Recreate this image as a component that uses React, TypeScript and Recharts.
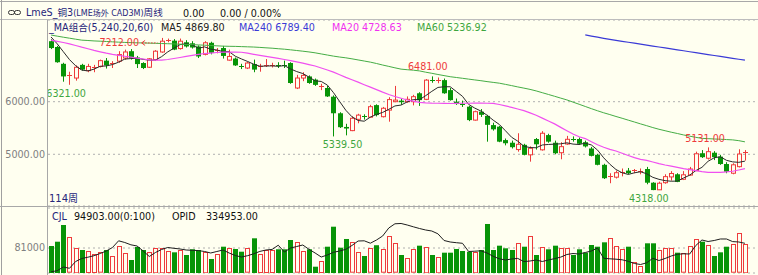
import React from "react";
import { ComposedChart, Bar, Line, XAxis, YAxis, CartesianGrid, ReferenceDot } from "recharts";

const FONT = '"DejaVu Sans", "Noto Sans CJK SC", sans-serif';
const BG = "#fffff0";
const RED = "#ee3b3b";
const GREEN = "#079407";
const NAVY = "#25257a";

// weekly OHLC (114 weeks)
const opens = [
  7150, 7040, 6720, 6500, 6450, 6700, 6590, 6630, 6670, 6780,
  6720, 6770, 6830, 6960, 6840, 6735, 6655, 6800, 6945, 7160,
  7160, 7010, 7130, 7110, 7050, 6900, 7120, 6960, 7020, 6790,
  6820, 6680, 6640, 6715, 6660, 6680, 6680, 6700, 6700, 6735,
  6260, 6450, 6480, 6420, 6290, 6260, 6095, 5780, 5520, 5450,
  5665, 5725, 5705, 5935, 5715, 5840, 6000, 6020, 6000, 6000,
  6160, 6045, 6420, 6410, 6410, 6220, 6000, 5960, 5905, 5650,
  5810, 5730, 5555, 5525, 5270, 5220, 5090, 5180, 4990, 5290,
  5085, 5365, 5220, 5030, 5195, 5300, 5290, 5230, 5110, 4990,
  4800, 4580, 4565, 4650, 4690, 4685, 4670, 4720, 4460, 4325,
  4460, 4570, 4620, 4525, 4605, 4690, 5020, 4925, 5030, 4955,
  4815, 4640, 4765, 5040,
];
const highs = [
  7190, 7060, 6740, 6570, 6690, 6720, 6720, 6700, 6800, 6830,
  6770, 6960, 6990, 7000, 6870, 6750, 6830, 6980, 7212, 7200,
  7190, 7200, 7170, 7150, 7070, 7150, 7140, 7020, 7060, 6990,
  6840, 6720, 6760, 6800, 6720, 6810, 6740, 6750, 6780, 6750,
  6510, 6560, 6500, 6440, 6340, 6300, 6120, 5800, 5580, 5720,
  5770, 5760, 5940, 5950, 5900, 6085, 6300, 6060, 6100, 6130,
  6180, 6430, 6481, 6460, 6440, 6260, 6060, 6020, 5920, 5830,
  5860, 5750, 5600, 5540, 5300, 5260, 5400, 5200, 5150, 5310,
  5440, 5390, 5260, 5230, 5350, 5340, 5320, 5260, 5140, 5010,
  4820, 4640, 4690, 4730, 4740, 4720, 4730, 4760, 4470, 4480,
  4620, 4680, 4640, 4680, 4760, 5050, 5080, 5131, 5060, 4990,
  4850, 4830, 5095, 5080,
];
const lows = [
  7000, 6740, 6380, 6321, 6400, 6590, 6560, 6560, 6650, 6630,
  6640, 6740, 6800, 6800, 6640, 6620, 6640, 6780, 6930, 7130,
  6980, 6990, 7030, 7010, 6830, 6880, 6900, 6920, 6820, 6780,
  6680, 6620, 6620, 6560, 6570, 6660, 6650, 6640, 6640, 6340,
  6240, 6390, 6340, 6300, 6220, 6090, 5339.5, 5500, 5360, 5440,
  5590, 5660, 5700, 5720, 5700, 5620, 5990, 5940, 5980, 5930,
  5920, 6030, 6360, 6350, 6150, 6020, 5940, 5900, 5630, 5640,
  5710, 5240, 5450, 5230, 5170, 5110, 5050, 4980, 4860, 5090,
  5070, 5220, 5000, 4905, 5180, 5240, 5180, 5130, 4960, 4790,
  4530, 4450, 4540, 4580, 4620, 4640, 4620, 4430, 4318, 4320,
  4440, 4500, 4470, 4510, 4590, 4680, 4930, 4900, 4890, 4800,
  4640, 4620, 4750, 4880,
];
const closes = [
  7020, 6750, 6480, 6510, 6654, 6610, 6670, 6650, 6780, 6690,
  6740, 6895, 6945, 6830, 6715, 6640, 6815, 6960, 7150, 7170,
  6990, 7150, 7050, 7030, 6860, 7120, 6930, 6975, 6870, 6860,
  6690, 6670, 6735, 6610, 6670, 6700, 6690, 6690, 6680, 6355,
  6450, 6500, 6355, 6320, 6300, 6100, 5780, 5515, 5490, 5685,
  5745, 5710, 5905, 5745, 5875, 6040, 6030, 5990, 6045, 6095,
  6030, 6410, 6400, 6420, 6160, 6030, 5955, 5945, 5650, 5810,
  5750, 5560, 5475, 5240, 5210, 5135, 5190, 4990, 5115, 5190,
  5400, 5240, 5020, 5145, 5285, 5280, 5200, 5150, 4970, 4800,
  4545, 4590, 4650, 4660, 4640, 4700, 4690, 4460, 4320, 4450,
  4575, 4635, 4475, 4610, 4720, 5010, 4945, 5050, 4945, 4815,
  4670, 4800, 5005, 5050,
];

// moving averages as drawn
const ma5 = [
  7230, 7100, 6950, 6800, 6683, 6601, 6585, 6619, 6673, 6680,
  6706, 6751, 6810, 6820, 6825, 6805, 6789, 6792, 6856, 6947,
  7017, 7084, 7102, 7078, 7016, 7042, 6998, 6983, 6951, 6951,
  6865, 6813, 6765, 6713, 6675, 6677, 6681, 6672, 6686, 6623,
  6573, 6535, 6468, 6396, 6385, 6315, 6171, 6003, 5837, 5714,
  5643, 5629, 5707, 5758, 5796, 5855, 5919, 5936, 5996, 6040,
  6038, 6114, 6196, 6271, 6284, 6284, 6193, 6102, 5948, 5878,
  5822, 5743, 5649, 5567, 5447, 5324, 5250, 5153, 5128, 5124,
  5177, 5187, 5193, 5199, 5218, 5194, 5186, 5212, 5177, 5080,
  4933, 4811, 4711, 4649, 4617, 4648, 4668, 4630, 4562, 4524,
  4499, 4488, 4491, 4549, 4603, 4690, 4752, 4867, 4934, 4953,
  4885, 4856, 4847, 4869.8,
];
const ma20 = [
  7172, 7148, 7125, 7098, 7068, 7036, 7007, 6975, 6948, 6922,
  6899, 6882, 6864, 6847, 6828, 6811, 6794, 6792, 6792, 6802,
  6821, 6840, 6861, 6880, 6899, 6916, 6925, 6935, 6942, 6944,
  6944, 6940, 6922, 6901, 6882, 6863, 6842, 6823, 6802, 6781,
  6758, 6732, 6705, 6678, 6640, 6602, 6561, 6513, 6462, 6416,
  6371, 6323, 6276, 6230, 6182, 6137, 6099, 6065, 6032, 6010,
  5987, 5977, 5972, 5970, 5968, 5966, 5968, 5970, 5970, 5972,
  5972, 5970, 5968, 5947, 5920, 5892, 5861, 5829, 5787, 5742,
  5688, 5633, 5578, 5512, 5449, 5386, 5333, 5299, 5238, 5181,
  5134, 5094, 5063, 5020, 4978, 4936, 4904, 4885, 4854, 4822,
  4797, 4775, 4750, 4727, 4708, 4689, 4670, 4655, 4655, 4655,
  4664, 4678, 4702, 4728.63,
];
const ma60 = [
  7267, 7246, 7226, 7207, 7188, 7170, 7163, 7155, 7150, 7144,
  7138, 7132, 7127, 7123, 7119, 7117, 7113, 7110, 7106, 7102,
  7098, 7093, 7089, 7085, 7079, 7074, 7068, 7062, 7056, 7053,
  7051, 7047, 7043, 7039, 7032, 7024, 7017, 7007, 6998, 6986,
  6973, 6960, 6946, 6929, 6908, 6887, 6866, 6849, 6834, 6815,
  6794, 6773, 6752, 6726, 6697, 6671, 6644, 6619, 6608, 6599,
  6585, 6561, 6540, 6517, 6496, 6475, 6460, 6445, 6429, 6414,
  6399, 6382, 6367, 6352, 6329, 6306, 6281, 6258, 6234, 6205,
  6171, 6137, 6103, 6068, 6034, 5992, 5951, 5909, 5867, 5827,
  5789, 5755, 5719, 5685, 5649, 5614, 5578, 5544, 5508, 5476,
  5448, 5420, 5395, 5368, 5345, 5322, 5303, 5297, 5291, 5286,
  5280, 5274, 5259, 5236.92,
];
const ma240 = [
  ...Array(87).fill(null),
  7270, 7248, 7226, 7205, 7185, 7166, 7148, 7130, 7112, 7094,
  7076, 7058, 7040, 7022, 7004, 6986, 6968, 6950, 6932, 6914,
  6896, 6878, 6860, 6842, 6825, 6807, 6789.4,
];

// lower panel: volume (CJL) and open interest (OPID)
const volumes = [
  87480, 101400, 155500, 115600, 82000, 74500, 71300, 61600, 67000, 74500,
  55100, 88500, 65800, 42100, 84200, 74500, 69000, 82000, 82000, 71300,
  67000, 74500, 58300, 76800, 74500, 69000, 45400, 61600, 85200, 80000,
  77800, 69000, 80000, 112400, 61600, 74500, 74500, 76800, 76800, 106900,
  99400, 71300, 76800, 20400, 38900, 85200, 150000, 82000, 110200, 99400,
  69000, 55100, 80000, 90000, 76800, 119900, 96200, 58300, 47600, 76800,
  88500, 85200, 58300, 52800, 65800, 65800, 77800, 71300, 69000, 69000,
  74500, 158800, 74500, 88500, 80000, 74500, 98200, 85200, 119900, 58300,
  85200, 76800, 88500, 82000, 82000, 58300, 76800, 65800, 90700, 85200,
  99400, 112400, 88500, 76800, 85200, 36600, 22700, 96200, 96200, 74500,
  80000, 80000, 65800, 63800, 88500, 109200, 101400, 90700, 55100, 67000,
  85200, 93000, 128600, 94903,
];
const opid = [
  205500, 210500, 227300, 221400, 252300, 265900, 271800, 278600, 288600, 300000,
  315900, 346300, 338600, 328100, 322700, 300000, 275000, 293200, 306800, 315900,
  312300, 309100, 304500, 303200, 301800, 297700, 290900, 297700, 304500, 290900,
  279500, 272700, 278600, 287200, 298100, 304500, 307200, 326300, 295400, 313600,
  320400, 327200, 307700, 290900, 272700, 281800, 294100, 300000, 307700, 325000,
  345400, 346300, 335400, 350000, 368100, 404500, 423600, 425000, 418100, 409900,
  402200, 395400, 390800, 378100, 347700, 340900, 337700, 335000, 297700, 299100,
  300900, 290900, 275900, 264500, 259100, 263600, 266300, 251800, 254500, 259100,
  252300, 259100, 265400, 272200, 284100, 288600, 286300, 293200, 300000, 313600,
  266800, 264500, 262700, 260000, 253200, 243200, 238600, 246300, 266800, 256800,
  265900, 277200, 285000, 287200, 286300, 325000, 350000, 343100, 347700, 354500,
  354500, 342700, 340900, 334953,
];

const priceTicks = [5000, 6000];
const volTicks = [81000];

const rows = closes.map((c, i) => ({
  w: i,
  o: opens[i],
  h: highs[i],
  l: lows[i],
  c,
  ma5: ma5[i],
  ma20: ma20[i],
  ma60: ma60[i],
  ma240: ma240[i],
  vol: volumes[i],
  op: opid[i],
}));

function Candle(props: any) {
  const { x, y, width, height, payload } = props;
  if (!payload) return null;
  const { o, h, l, c } = payload;
  const top = Math.min(y, y + height);
  const span = Math.abs(height);
  const k = span / (h - l);
  const cx = Math.round(x + width / 2) + 0.5;
  const yo = top + (h - o) * k;
  const yc = top + (h - c) * k;
  const up = c >= o;
  const col = up ? RED : GREEN;
  const bt = Math.min(yo, yc);
  const bh = Math.abs(yo - yc);
  return (
    <g>
      <line x1={cx} x2={cx} y1={top} y2={top + span} stroke={col} />
      {bh < 1.2 ? (
        <line x1={cx - 2.5} x2={cx + 2.5} y1={Math.round(bt) + 0.5} y2={Math.round(bt) + 0.5} stroke={col} />
      ) : up ? (
        <rect x={cx - 2} y={bt} width={4} height={bh} fill={BG} stroke={col} />
      ) : (
        <rect x={cx - 2.5} y={bt} width={5} height={bh} fill={col} />
      )}
    </g>
  );
}

function VolBar(props: any) {
  const { x, y, width, height, payload } = props;
  if (!payload) return null;
  const cx = Math.round(x + width / 2) + 0.5;
  const top = Math.min(y, y + height);
  const hh = Math.abs(height);
  if (payload.c >= payload.o) {
    return <rect x={cx - 2} y={Math.round(top) + 0.5} width={4} height={Math.max(hh - 1, 0)} fill={BG} stroke={RED} />;
  }
  return <rect x={cx - 2.5} y={top} width={5} height={hh} fill={GREEN} />;
}

const mark =
  (text: string, color: string, dx: number, dy: number, anchor: string = "middle", kind?: "arrow" | "clip") =>
  (p: any) => {
    const vb = p.viewBox || { x: 0, y: 0, width: 0, height: 0 };
    const px = vb.x + (vb.width || 0) / 2;
    const py = vb.y + (vb.height || 0) / 2;
    const tx = px + dx;
    const ty = py + dy;
    return (
      <g>
        {kind === "clip" && (
          <defs>
            <clipPath id="plotClip">
              <rect x={48} y={20} width={710} height={186} />
            </clipPath>
          </defs>
        )}
        <text
          x={tx}
          y={ty + 3.5}
          textAnchor={anchor as any}
          fill={color}
          fontSize={9.6}
          fontFamily={FONT}
          clipPath={kind === "clip" ? "url(#plotClip)" : undefined}
        >
          {text}
        </text>
        {kind === "arrow" && (
          <g stroke={color} fill="none">
            <path d={`M${tx + 6},${ty - 2.5} L${tx + 2.5},${ty} L${tx + 6},${ty + 2.5}`} />
            <line x1={tx + 3} x2={px - 4} y1={ty} y2={ty} strokeDasharray="1.5 1.5" />
          </g>
        )}
      </g>
    );
  };

const lbl = { fontSize: 9.6, fontFamily: FONT };

export default function App() {
  return (
    <div style={{ position: "fixed", left: 0, top: 0, width: 758, height: 275, background: BG, overflow: "hidden" }}>
      <div style={{ position: "absolute", left: 0, top: 0 }}>
        <ComposedChart width={758} height={207} data={rows} margin={{ top: 20, right: 0, bottom: 1, left: 0 }}>
          <CartesianGrid vertical={false} stroke="#b0b0b0" strokeDasharray="2 3" />
          <XAxis dataKey="w" hide height={0} padding={{ left: 0, right: 10 }} />
          <YAxis
            domain={[4017, 7553]}
            allowDataOverflow
            ticks={priceTicks}
            width={48}
            axisLine={false}
            tickLine={false}
            tickSize={0}
            tickMargin={3}
            tick={{ fill: "#808080", ...lbl }}
            tickFormatter={(v: number) => v.toFixed(2)}
          />
          <Bar dataKey={(d: any) => [d.l, d.h]} barSize={4} shape={Candle} isAnimationActive={false} />
          <Line dataKey="ma5" stroke="#2a2a2a" strokeWidth={1} dot={false} isAnimationActive={false} />
          <Line dataKey="ma240" stroke="#3a3ad6" strokeWidth={1.2} dot={false} isAnimationActive={false} />
          <Line dataKey="ma20" stroke="#f050f0" strokeWidth={1.2} dot={false} isAnimationActive={false} />
          <Line dataKey="ma60" stroke="#45ad45" strokeWidth={1} dot={false} isAnimationActive={false} />
          <ReferenceDot x={18} y={7212} r={0} label={mark("7212.00", RED, -22.5, 5, "end", "arrow")} />
          <ReferenceDot x={62} y={6481} r={0} label={mark("6481.00", RED, -4, -9.7)} />
          <ReferenceDot x={46} y={5339.5} r={0} label={mark("5339.50", "#3ea63e", 9, 8.3)} />
          <ReferenceDot x={98} y={4318} r={0} label={mark("4318.00", "#3ea63e", -4, 8.3)} />
          <ReferenceDot x={107} y={5131} r={0} label={mark("5131.00", RED, -3, -9)} />
          <ReferenceDot x={3} y={6321} r={0} label={mark("6321.00", "#3ea63e", -23.2, 8.7, "start", "clip")} />
        </ComposedChart>
      </div>
      <div style={{ position: "absolute", left: 0, top: 207 }}>
        <ComposedChart width={758} height={68} data={rows} margin={{ top: 1, right: 0, bottom: 2, left: 0 }}>
          <CartesianGrid vertical={false} yAxisId="v" stroke="#b0b0b0" strokeDasharray="2 3" />
          <XAxis dataKey="w" hide height={0} padding={{ left: 0, right: 10 }} />
          <YAxis
            yAxisId="v"
            domain={[0, 210600]}
            allowDataOverflow
            ticks={volTicks}
            width={48}
            axisLine={false}
            tickLine={false}
            tickSize={0}
            tickMargin={3}
            tick={{ fill: "#808080", ...lbl }}
          />
          <YAxis yAxisId="op" orientation="right" hide domain={[200000, 495360]} allowDataOverflow />
          <Bar yAxisId="v" dataKey="vol" barSize={4} shape={VolBar} isAnimationActive={false} />
          <Line yAxisId="op" dataKey="op" stroke="#1e1e1e" strokeWidth={1} dot={false} isAnimationActive={false} />
        </ComposedChart>
      </div>
      <svg width={758} height={275} style={{ position: "absolute", left: 0, top: 0, pointerEvents: "none" }}>
        <line x1={0} x2={758} y1={1.5} y2={1.5} stroke="#a8a8a8" />
        <line x1={0} x2={758} y1={19.5} y2={19.5} stroke="#bdbdbd" />
        <line x1={1.5} x2={1.5} y1={0} y2={275} stroke="#a0a0a0" />
        <line x1={47.5} x2={47.5} y1={20} y2={275} stroke="#a8a8a8" />
        <line x1={0} x2={758} y1={206.5} y2={206.5} stroke="#a8a8a8" />
        <g stroke="#333" fill="none">
          <rect x={8.5} y={10.5} width={6} height={4} rx={2} />
          <rect x={14.5} y={10.5} width={6} height={4} rx={2} />
        </g>
        <g fontFamily={FONT}>
          <text x={26} y={16.2} fontSize={9.6} fill={NAVY}>
            LmeS_铜3<tspan fontSize={8}>(LME场外 CAD3M)</tspan>周线
          </text>
          <text x={183} y={16.5} fontSize={9.6} fill="#111">0.00</text>
          <text x={220} y={16.5} fontSize={9.6} fill="#111">0.00 / 0.00%</text>

          <text x={49} y={30.8} fontSize={9.6} fill={NAVY}>_MA组合(5,240,20,60)</text>
          <text x={161} y={30.8} fontSize={9.6} fill="#222">MA5 4869.80</text>
          <text x={239} y={30.8} fontSize={9.6} fill="#3a3ad6">MA240 6789.40</text>
          <text x={332} y={30.8} fontSize={9.6} fill="#f030f0">MA20 4728.63</text>
          <text x={417} y={30.8} fontSize={9.6} fill="#3ea63e">MA60 5236.92</text>

          <text x={49} y={201.8} fontSize={10} fill={NAVY}>114周</text>

          <text x={52} y={219.5} fontSize={9.6} fill={NAVY}>CJL</text>
          <text x={74} y={219.5} fontSize={9.6} fill="#111">94903.00(0:100)</text>
          <text x={172} y={219.5} fontSize={9.6} fill="#111">OPID</text>
          <text x={206} y={219.5} fontSize={9.6} fill="#111">334953.00</text>
        </g>
      </svg>
    </div>
  );
}
